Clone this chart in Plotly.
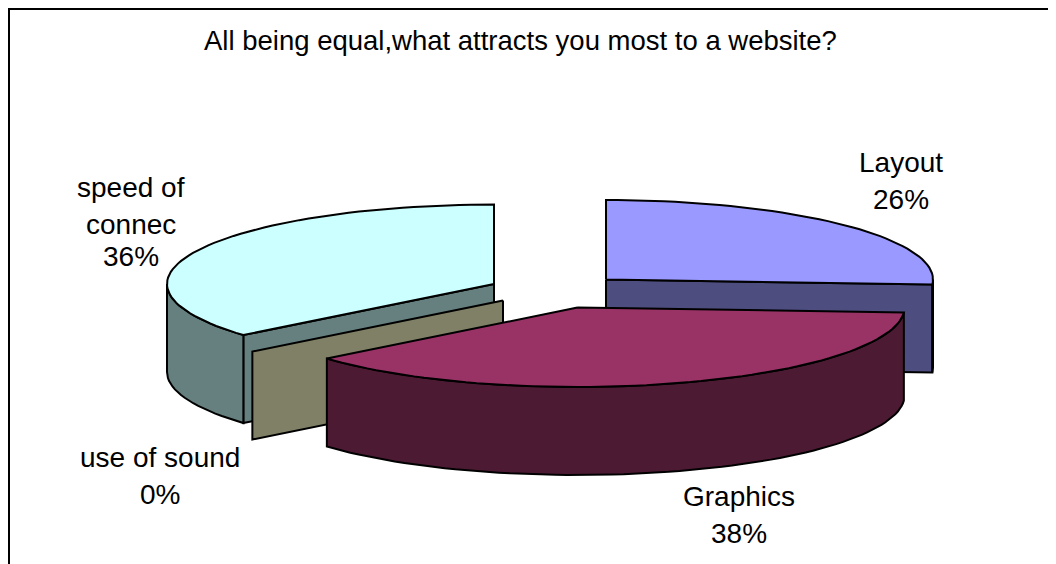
import math
import plotly.graph_objects as go

# --- chart data ---
title_text = "All being equal,what attracts you most to a website?"
categories = ["Layout", "Graphics", "use of sound", "speed of connec"]
values = [26, 37.9, 0, 36.1]
label_lines = [["Layout"], ["Graphics"], ["use of sound"], ["speed of", "connec"]]
top_colors = ["#9999FF", "#993366", "#FFFFCC", "#CCFFFF"]
side_colors = ["#4D4D80", "#4D1A33", "#808066", "#668080"]

# --- projection of the tilted pie (pixel space of the page) ---
W, H = 1056, 564
PAGE = 8  # the page's own margin
RX, RY, DEPTH = 327, 79.5, 88
centres = [(606, 279.5), (577.5, 307.5), (503, 300.5), (494, 284)]
draw_order = [0, 3, 2, 1]
label_pos = [[(901, 162), (901, 199)], [(739, 496), (739, 533)],
             [(160, 457), (160, 494)], [(131, 187), (131, 224), (131, 256)]]

total = sum(values)
angles = []
acc = 0.0
for v in values:
    angles.append((acc / total * 2 * math.pi, (acc + v) / total * 2 * math.pi))
    acc += v


def rim(c, a):
    return c[0] + RX * math.sin(a), c[1] - RY * math.cos(a)


def arc(c, a0, a1, dy=0.0, step=math.radians(2.0)):
    n = max(1, int(abs(a1 - a0) / step))
    pts = [rim(c, a0 + (a1 - a0) * i / n) for i in range(n + 1)]
    return [(x, y + dy) for x, y in pts]


def poly(fig, pts, color, name):
    xs = [p[0] for p in pts] + [pts[0][0]]
    ys = [p[1] for p in pts] + [pts[0][1]]
    fig.add_trace(go.Scatter(x=xs, y=ys, mode="lines", fill="toself", fillcolor=color,
                             line=dict(color="black", width=2), name=name,
                             hoverinfo="name", showlegend=False))


def cut_face(fig, c, a, color, name):
    e = rim(c, a)
    poly(fig, [c, e, (e[0], e[1] + DEPTH), (c[0], c[1] + DEPTH)], color, name)


fig = go.Figure()
for i in draw_order:
    c = centres[i]
    a0, a1 = angles[i]
    name = categories[i]
    # cut faces that look towards the viewer
    if math.sin(a0) < 0:
        cut_face(fig, c, a0, side_colors[i], name)
    if math.sin(a1) > 0:
        cut_face(fig, c, a1, side_colors[i], name)
    # outer wall on the part of the rim that is visible
    w0, w1 = max(a0, math.pi / 2), min(a1, 3 * math.pi / 2)
    if w1 > w0:
        poly(fig, arc(c, w0, w1) + arc(c, w1, w0, DEPTH), side_colors[i], name)
    # top
    if a1 > a0:
        poly(fig, [c] + arc(c, a0, a1), top_colors[i], name)

ann = []
for i, lines in enumerate(label_lines):
    pct = f"{round(values[i] / total * 100)}%"
    for text, (x, y) in zip(lines + [pct], label_pos[i]):
        ann.append(dict(x=x, y=y, text=text, showarrow=False, xanchor="center", yanchor="middle",
                        font=dict(family="Liberation Sans", size=28, color="black")))
ann.append(dict(x=520.5, y=40, text=title_text, showarrow=False, xanchor="center", yanchor="middle",
                font=dict(family="Liberation Sans", size=27.5, color="black")))

fig.update_layout(
    width=W - PAGE, height=H - PAGE, margin=dict(l=0, r=0, t=0, b=0),
    paper_bgcolor="white", plot_bgcolor="white",
    xaxis=dict(range=[PAGE, W], visible=False, fixedrange=True),
    yaxis=dict(range=[H, PAGE], visible=False, fixedrange=True),
    annotations=ann, showlegend=False,
    shapes=[dict(type="line", x0=PAGE, y0=9, x1=W, y1=9, line=dict(color="black", width=2)),
            dict(type="line", x0=9, y0=PAGE, x1=9, y1=H, line=dict(color="black", width=2))],
)
fig.write_html("out.html", config=dict(displayModeBar=False))
